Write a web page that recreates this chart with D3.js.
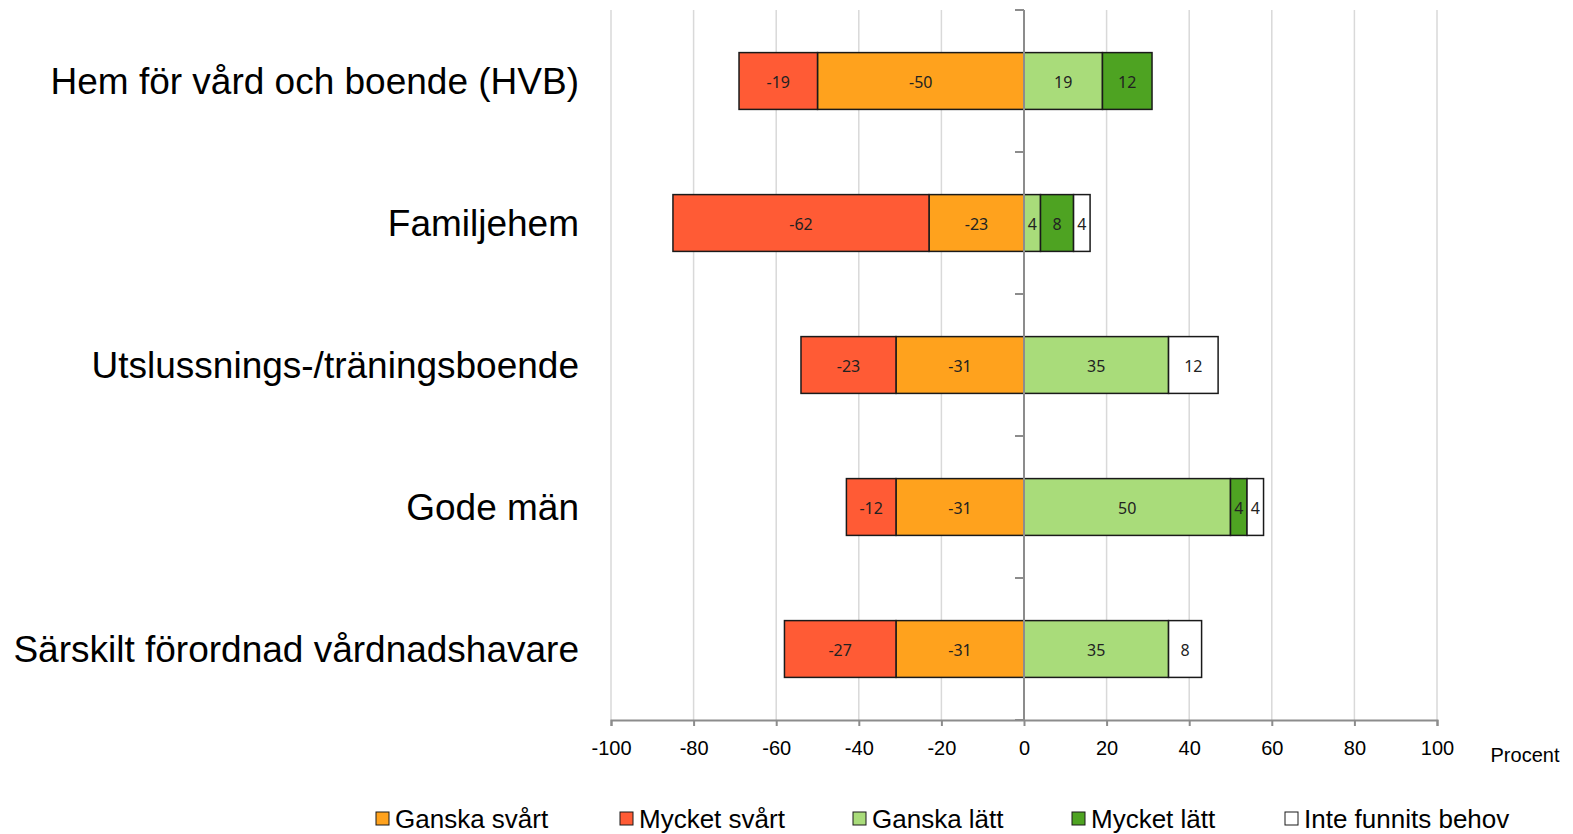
<!DOCTYPE html>
<html>
<head>
<meta charset="utf-8">
<script src="https://cdn.jsdelivr.net/npm/d3@7"></script>
<style>
  body { margin: 0; background: #fff; }
  svg { display: block; }
</style>
</head>
<body>
<div id="chart"></div>
<script>
// Categories (top to bottom)
const categories = [
    "Hem för vård och boende (HVB)",
    "Familjehem",
    "Utslussnings-/träningsboende",
    "Gode män",
    "Särskilt förordnad vårdnadshavare"
];

// Series values, percent (negative side drawn leftwards from 0)
const ganskaSvart  = [-50, -23, -31, -31, -31];
const mycketSvart  = [-19, -62, -23, -12, -27];
const ganskaLatt   = [19, 4, 35, 50, 35];
const mycketLatt   = [12, 8, 0, 4, 0];
const inteBehov    = [0, 4, 12, 4, 8];

const seriesNames = ["Ganska svårt", "Mycket svårt", "Ganska lätt", "Mycket lätt", "Inte funnits behov"];
const seriesValues = [ganskaSvart, mycketSvart, ganskaLatt, mycketLatt, inteBehov];
const seriesColors = ["#ffa21d", "#ff5b35", "#a9dc7a", "#4ea322", "#ffffff"];

const xTicks = [-100, -80, -60, -40, -20, 0, 20, 40, 60, 80, 100];
const xLabel = "Procent";

// Dimensions
const W = 1573, H = 834;
const plot = {left: 611, right: 1437, top: 10, bottom: 720};

const svg = d3.select("#chart")
    .append("svg")
        .attr("width", W)
        .attr("height", H);

const x = d3.scaleLinear()
    .domain([-100, 100])
    .range([plot.left, plot.right]);

const y = d3.scaleBand()
    .domain(categories)
    .range([plot.top, plot.bottom])
    .paddingInner(0.6)
    .paddingOuter(0.3);

// Gridlines
svg.append("g")
    .selectAll("line")
    .data(xTicks.filter(d => d !== 0))
    .join("line")
        .attr("x1", d => x(d))
        .attr("x2", d => x(d))
        .attr("y1", plot.top)
        .attr("y2", plot.bottom)
        .attr("stroke", "#d9d9d9")
        .attr("stroke-width", 1.5);

// Build segments: negative side stacks leftwards, positive rightwards
const segments = [];
categories.forEach((cat, i) => {
    let neg = 0, pos = 0;
    seriesValues.forEach((vals, s) => {
        const v = vals[i];
        if (v === 0) return;
        let x0, x1;
        if (v < 0) { x0 = neg + v; x1 = neg; neg += v; }
        else { x0 = pos; x1 = pos + v; pos += v; }
        segments.push({cat: cat, s: s, v: v, x0: x0, x1: x1});
    });
});

// Bars
svg.append("g")
    .selectAll("rect")
    .data(segments)
    .join("rect")
        .attr("x", d => x(d.x0))
        .attr("y", d => y(d.cat))
        .attr("width", d => x(d.x1) - x(d.x0))
        .attr("height", y.bandwidth())
        .attr("fill", d => seriesColors[d.s])
        .attr("stroke", "#1a1a1a")
        .attr("stroke-width", 1.5);

// Bar labels
svg.append("g")
    .selectAll("text")
    .data(segments)
    .join("text")
        .attr("x", d => (x(d.x0) + x(d.x1)) / 2)
        .attr("y", d => y(d.cat) + y.bandwidth() / 2 + 1)
        .attr("dy", "0.35em")
        .attr("text-anchor", "middle")
        .style("font-family", "'Noto Sans', sans-serif")
        .style("font-size", "16px")
        .style("fill", "#222")
        .text(d => d.v);

// Center axis (vertical at 0) with ticks between categories
const axisColor = "#8c8c8c";
svg.append("line")
    .attr("x1", x(0)).attr("x2", x(0))
    .attr("y1", plot.top).attr("y2", plot.bottom)
    .attr("stroke", axisColor)
    .attr("stroke-width", 2);

const bounds = categories.map(c => y(c) - (y.step() - y.bandwidth()) / 2);
bounds.push(plot.bottom);
svg.append("g")
    .selectAll("line")
    .data(bounds)
    .join("line")
        .attr("x1", x(0) - 9)
        .attr("x2", x(0))
        .attr("y1", d => d)
        .attr("y2", d => d)
        .attr("stroke", axisColor)
        .attr("stroke-width", 2);

// Bottom axis
const xAxis = svg.append("g")
    .attr("transform", `translate(0,${plot.bottom})`)
    .call(d3.axisBottom(x).tickValues(xTicks).tickFormat(d => String(d)).tickSize(6).tickPadding(15));
xAxis.select(".domain").attr("stroke", axisColor).attr("stroke-width", 2);
xAxis.selectAll(".tick line").attr("stroke", axisColor).attr("stroke-width", 2);
xAxis.selectAll("text")
    .style("font-family", "'Liberation Sans', Arial, sans-serif")
    .style("font-size", "20px")
    .style("fill", "#000");

svg.append("text")
    .attr("x", 1525)
    .attr("y", 762)
    .attr("text-anchor", "middle")
    .style("font-family", "'Liberation Sans', Arial, sans-serif")
    .style("font-size", "20px")
    .text(xLabel);

// Category labels
svg.append("g")
    .selectAll("text")
    .data(categories)
    .join("text")
        .attr("x", 579)
        .attr("y", d => y(d) + y.bandwidth() / 2)
        .attr("dy", "0.35em")
        .attr("text-anchor", "end")
        .style("font-family", "'Liberation Sans', Arial, sans-serif")
        .style("font-size", "37px")
        .style("fill", "#000")
        .text(d => d);

// Legend
const legendX = [376, 620, 853, 1072, 1285];
const legend = svg.append("g")
    .selectAll("g")
    .data(seriesNames)
    .join("g")
        .attr("transform", (d, i) => `translate(${legendX[i]},819)`);
legend.append("rect")
    .attr("x", 0).attr("y", -7)
    .attr("width", 13).attr("height", 13)
    .attr("fill", (d, i) => seriesColors[i])
    .attr("stroke", "#1a1a1a")
    .attr("stroke-width", 1);
legend.append("text")
    .attr("x", 19)
    .attr("y", 0)
    .attr("dy", "0.35em")
    .style("font-family", "'Liberation Sans', Arial, sans-serif")
    .style("font-size", "26px")
    .text(d => d);
</script>
</body>
</html>
